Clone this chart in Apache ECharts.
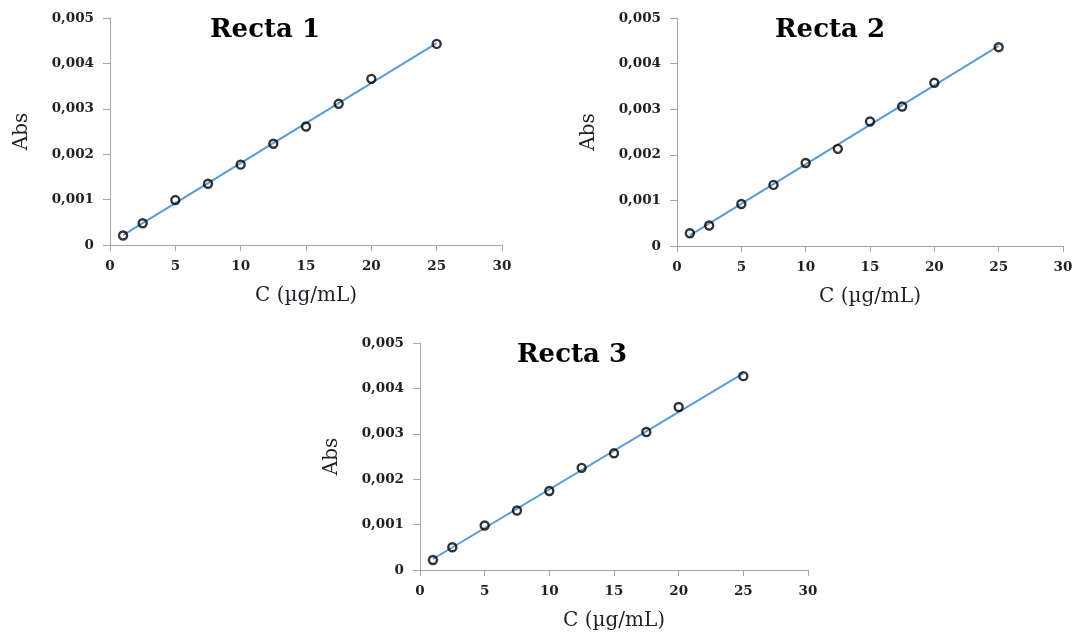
<!DOCTYPE html>
<html>
<head>
<meta charset="utf-8">
<script src="https://cdn.jsdelivr.net/npm/echarts@6/dist/echarts.min.js"></script>
<style>
  html, body { margin: 0; padding: 0; background: #fff; }
  #chart { width: 1080px; height: 640px; }
</style>
</head>
<body>
<div id="chart"></div>
<script>
// concentrations (µg/mL) shared by the three calibration lines
const conc = [1, 2.5, 5, 7.5, 10, 12.5, 15, 17.5, 20, 25];
const abs1 = [0.00021, 0.00048, 0.00099, 0.00135, 0.00177, 0.00223, 0.00261, 0.00311, 0.00366, 0.00443];
const abs2 = [0.00028, 0.00045, 0.00092, 0.00134, 0.00182, 0.00213, 0.00273, 0.00306, 0.00358, 0.00436];
const abs3 = [0.00022, 0.0005, 0.00098, 0.00131, 0.00174, 0.00225, 0.00257, 0.00304, 0.00359, 0.00427];
const titles = ["Recta 1", "Recta 2", "Recta 3"];

const grids = [
  { left: 110, top: 18, width: 392, height: 227 },
  { left: 677, top: 18, width: 386, height: 228 },
  { left: 420, top: 343, width: 388, height: 227 },
];
const titlePos = [[265, 30], [830, 30], [572, 355]];

const font = "DejaVu Serif";
const axisColor = "#a6a6a6";
const textColor = "#1f1f28";

function fit(xs, ys) {
  const n = xs.length;
  const mx = xs.reduce((a, b) => a + b, 0) / n;
  const my = ys.reduce((a, b) => a + b, 0) / n;
  let sxy = 0, sxx = 0;
  for (let i = 0; i < n; i++) {
    sxy += (xs[i] - mx) * (ys[i] - my);
    sxx += (xs[i] - mx) * (xs[i] - mx);
  }
  const m = sxy / sxx;
  return [m, my - m * mx];
}

function fmtY(v) {
  if (v === 0) return "0";
  return v.toFixed(3).replace(".", ",");
}

const chart = echarts.init(document.getElementById("chart"));

const xAxes = [], yAxes = [], series = [], graphics = [];
[abs1, abs2, abs3].forEach((ys, i) => {
  xAxes.push({
    gridIndex: i,
    type: "value",
    min: 0,
    max: 30,
    interval: 5,
    name: "C (µg/mL)",
    nameLocation: "middle",
    nameGap: 41,
    nameTextStyle: { fontFamily: font, fontSize: 20, color: textColor },
    axisLine: { show: true, lineStyle: { color: axisColor, width: 1 } },
    axisTick: { show: true, length: 6, lineStyle: { color: axisColor } },
    axisLabel: { fontFamily: font, fontSize: 13.5, fontWeight: "bold", color: textColor, margin: 14 },
    splitLine: { show: false },
  });
  yAxes.push({
    gridIndex: i,
    type: "value",
    min: 0,
    max: 0.005,
    interval: 0.001,
    name: "Abs",
    nameLocation: "middle",
    nameGap: 78,
    nameRotate: 90,
    nameTextStyle: { fontFamily: font, fontSize: 20, color: textColor },
    axisLine: { show: true, lineStyle: { color: axisColor, width: 1 } },
    axisTick: { show: true, length: 7, lineStyle: { color: axisColor } },
    axisLabel: { fontFamily: font, fontSize: 13.5, fontWeight: "bold", color: textColor, margin: 16, formatter: fmtY },
    splitLine: { show: false },
  });

  const [m, b] = fit(conc, ys);
  const x0 = conc[0], x1 = conc[conc.length - 1];
  series.push({
    type: "line",
    xAxisIndex: i,
    yAxisIndex: i,
    data: [[x0, m * x0 + b], [x1, m * x1 + b]],
    symbol: "none",
    lineStyle: { color: "#5b9bd5", width: 2 },
    z: 2,
  });
  series.push({
    type: "scatter",
    xAxisIndex: i,
    yAxisIndex: i,
    data: conc.map((c, k) => [c, ys[k]]),
    symbol: "circle",
    symbolSize: 8,
    itemStyle: { color: "rgba(255,255,255,0)", borderColor: "#000", borderWidth: 2.4 },
    z: 3,
  });

  graphics.push({
    type: "text",
    x: titlePos[i][0],
    y: titlePos[i][1],
    style: {
      text: titles[i],
      font: "bold 26px " + font,
      fill: "#000",
      align: "center",
      verticalAlign: "middle",
    },
  });
});

chart.setOption({
  animation: false,
  grid: grids,
  xAxis: xAxes,
  yAxis: yAxes,
  series: series,
  graphic: graphics,
});
</script>
</body>
</html>
